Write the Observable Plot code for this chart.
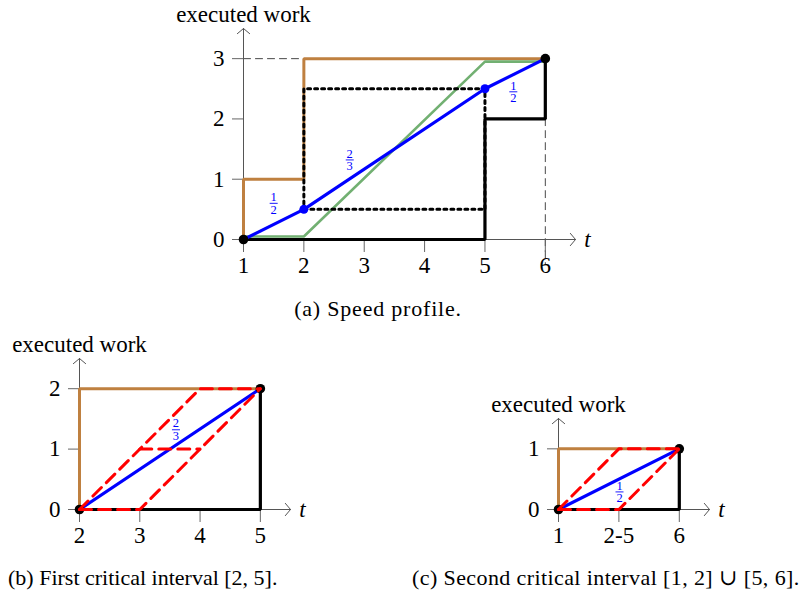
<!DOCTYPE html>
<html><head><meta charset="utf-8">
<script src="https://cdn.jsdelivr.net/npm/d3@7"></script>
<script src="https://cdn.jsdelivr.net/npm/@observablehq/plot@0.6"></script>
<style>
body{margin:0;background:#fff;}
#wrap{position:relative;width:800px;height:597px;overflow:hidden;font-family:"Liberation Serif","Times New Roman","DejaVu Serif",serif;}
.fig{position:absolute;}
.cap{position:absolute;font-size:22px;line-height:24px;white-space:nowrap;color:#000;font-family:"Liberation Serif","Times New Roman","DejaVu Serif",serif;}
</style></head><body><div id="wrap"></div>
<script>
const FONT = '"Liberation Serif", "Times New Roman", "DejaVu Serif", serif';
// ---------- shared text ----------
const yAxisLabel = "executed work";
const xAxisLabel = "t";
const captions = ["(a) Speed profile.", "(b) First critical interval [2, 5].", "(c) Second critical interval [1, 2] \u222A [5, 6]."];

// ---------- panel (a): speed profile ----------
const ticksXA = [1, 2, 3, 4, 5, 6];
const ticksYA = [0, 1, 2, 3];
const orangeA = [[1, 0], [1, 1], [2, 1], [2, 3], [6, 3]];
const greenA = [[1, 0.05], [2, 0.05], [5, 2.95], [6, 2.95], [6, 3]];
const blackA = [[1, 0], [5, 0], [5, 2], [6, 2], [6, 3]];
const blueA = [[1, 0], [2, 0.5], [5, 2.5], [6, 3]];
const dottedA = [[2, 0.5], [5, 0.5], [5, 2.5], [2, 2.5], [2, 0.5]];
const guidesA = [[[1, 3], [2, 3]], [[6, 3], [6, -0.4]]];
const blackDotsA = [[1, 0], [6, 3]];
const blueDotsA = [[2, 0.5], [5, 2.5]];
const fracA = [
  {x: 1.5, y: 0.6, num: "1", den: "2"},
  {x: 2.76, y: 1.32, num: "2", den: "3"},
  {x: 5.47, y: 2.45, num: "1", den: "2"}
];

// ---------- panel (b): first critical interval ----------
const ticksXB = [2, 3, 4, 5];
const ticksYB = [0, 1, 2];
const orangeB = [[2, 0], [2, 2], [5, 2]];
const blackB = [[2, 0], [5, 0], [5, 2]];
const blueB = [[2, 0], [5, 2]];
const redB = [[[2, 0], [4, 2], [5, 2]], [[2, 0], [3, 0], [5, 2]], [[3, 1], [4, 1]]];
const blackDotsB = [[2, 0], [5, 2]];
const fracB = [{x: 3.6, y: 1.32, num: "2", den: "3"}];

// ---------- panel (c): second critical interval ----------
const ticksXC = [0, 1, 2];
const tickLabelsC = ["1", "2-5", "6"];
const ticksYC = [0, 1];
const orangeC = [[0, 0], [0, 1], [2, 1]];
const blackC = [[0, 0], [2, 0], [2, 1]];
const blueC = [[0, 0], [2, 1]];
const redC = [[[0, 0], [1, 1], [2, 1]], [[0, 0], [1, 0], [2, 1]]];
const blackDotsC = [[0, 0], [2, 1]];
const fracC = [{x: 1.01, y: 0.29, num: "1", den: "2"}];

// ---------- colours ----------
const ORANGE = "#bf8040", GREEN = "#72b072", BLUE = "#0000ff", RED = "#ff0000";

const pts = a => a.map(([x, y]) => ({x, y}));
const paths = list => list.flatMap((p, i) => p.map(([x, y]) => ({x, y, z: i})));
const barSymbol = {draw(ctx, size) { const r = Math.sqrt(size / Math.PI); ctx.moveTo(-r, 0); ctx.lineTo(r, 0); }};
const intFmt = d => String(d);

function panel(c) {
  const [x0, x1] = c.xDomain, [y0, y1] = c.yDomain;
  const marks = [];
  if (c.guides) marks.push(Plot.line(paths(c.guides), {x: "x", y: "y", z: "z", stroke: "#333", strokeWidth: 0.9, strokeDasharray: "7,5"}));
  marks.push(Plot.axisX({ticks: c.xTicks, tickFormat: c.xFmt || intFmt, tickSize: 13, tickPadding: 4, stroke: "#666", fill: "black", fontSize: 23, fontFamily: FONT, label: null}));
  marks.push(Plot.axisY({ticks: c.yTicks, tickFormat: intFmt, tickSize: 11, tickPadding: 8, stroke: "#666", fill: "black", fontSize: 23, fontFamily: FONT, label: null}));
  marks.push(Plot.arrow([{x1: x0, y1: y0, x2: x1, y2: y0}, {x1: x0, y1: y0, x2: x0, y2: y1}],
    {x1: "x1", y1: "y1", x2: "x2", y2: "y2", stroke: "#555", strokeWidth: 1, headLength: 12, headAngle: 100}));
  marks.push(Plot.line(pts(c.orange), {x: "x", y: "y", stroke: ORANGE, strokeWidth: 3, strokeLinejoin: "miter"}));
  if (c.green) marks.push(Plot.line(pts(c.green), {x: "x", y: "y", stroke: GREEN, strokeWidth: 2.6, strokeLinejoin: "miter"}));
  marks.push(Plot.line(pts(c.black), {x: "x", y: "y", stroke: "black", strokeWidth: 3.2, strokeLinejoin: "miter"}));
  marks.push(Plot.line(pts(c.blue), {x: "x", y: "y", stroke: BLUE, strokeWidth: 3.2}));
  if (c.dotted) marks.push(Plot.line(pts(c.dotted), {x: "x", y: "y", stroke: "black", strokeWidth: 3, strokeDasharray: "3,4"}));
  if (c.blueDots) marks.push(Plot.dot(pts(c.blueDots), {x: "x", y: "y", r: 4.5, fill: BLUE}));
  marks.push(Plot.dot(pts(c.blackDots), {x: "x", y: "y", r: 4.8, fill: "black"}));
  if (c.red) marks.push(Plot.line(paths(c.red), {x: "x", y: "y", z: "z", stroke: RED, strokeWidth: 3, strokeDasharray: "12,7"}));
  marks.push(Plot.text(c.frac, {x: "x", y: "y", text: "num", dy: -6.3, fontSize: 12.5, fontFamily: FONT, fill: BLUE}));
  marks.push(Plot.text(c.frac, {x: "x", y: "y", text: "den", dy: 6.5, fontSize: 12.5, fontFamily: FONT, fill: BLUE}));
  marks.push(Plot.dot(c.frac, {x: "x", y: "y", symbol: barSymbol, r: 4, stroke: BLUE, strokeWidth: 0.9, fill: "none"}));
  marks.push(Plot.text([{x: x0, y: y1}], {x: "x", y: "y", text: () => yAxisLabel, dy: -14, fontSize: 23, fontFamily: FONT, fill: "black"}));
  marks.push(Plot.text([{x: x1, y: y0}], {x: "x", y: "y", text: () => xAxisLabel, dx: 12, fontSize: 23, fontFamily: FONT, fontStyle: "italic", fill: "black"}));

  const svg = Plot.plot({
    width: c.width, height: c.height,
    marginLeft: c.mL, marginRight: c.mR, marginTop: c.mT, marginBottom: c.mB,
    x: {domain: c.xDomain, label: null},
    y: {domain: c.yDomain, label: null},
    style: {fontFamily: FONT, fontSize: "23px", background: "transparent", overflow: "visible", color: "black"},
    marks
  });
  const div = document.createElement("div");
  div.className = "fig";
  div.style.left = c.left + "px";
  div.style.top = c.top + "px";
  div.appendChild(svg);
  document.getElementById("wrap").appendChild(div);
}

panel({left: 150, top: 0, width: 460, height: 290, mL: 93, mR: 35, mT: 28, mB: 51,
  xDomain: [1, 6.5], yDomain: [0, 3.5], xTicks: ticksXA, yTicks: ticksYA,
  orange: orangeA, green: greenA, black: blackA, blue: blueA, dotted: dottedA, guides: guidesA,
  blackDots: blackDotsA, blueDots: blueDotsA, frac: fracA});

panel({left: 0, top: 330, width: 320, height: 220, mL: 79, mR: 30, mT: 28, mB: 41,
  xDomain: [2, 5.5], yDomain: [0, 2.5], xTicks: ticksXB, yTicks: ticksYB,
  orange: orangeB, black: blackB, blue: blueB, red: redB, blackDots: blackDotsB, frac: fracB});

panel({left: 400, top: 390, width: 400, height: 160, mL: 158, mR: 91, mT: 28, mB: 41,
  xDomain: [0, 2.5], yDomain: [0, 1.5], xTicks: ticksXC, xFmt: i => tickLabelsC[i], yTicks: ticksYC,
  orange: orangeC, black: blackC, blue: blueC, red: redC, blackDots: blackDotsC, frac: fracC});

// captions
const capPos = [
  {x: 378, y: 309, anchor: "middle", spacing: 0.8},
  {x: 8, y: 578, anchor: "start", spacing: 0},
  {x: 412, y: 578, anchor: "start", spacing: 0.4}
];
captions.forEach((t, i) => {
  const d = document.createElement("div");
  d.className = "cap";
  d.textContent = t;
  d.style.left = capPos[i].x + "px";
  d.style.top = (capPos[i].y - 12) + "px";
  d.style.letterSpacing = capPos[i].spacing + "px";
  if (capPos[i].anchor === "middle") d.style.transform = "translateX(-50%)";
  document.getElementById("wrap").appendChild(d);
});
</script></body></html>
